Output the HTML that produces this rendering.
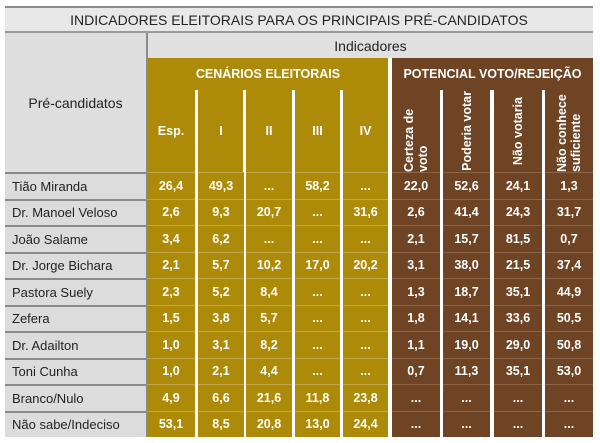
<!DOCTYPE html>
<html><head><meta charset="utf-8"><style>
body{margin:0;width:600px;height:443px;background:#fff;font-family:"Liberation Sans",Arial,sans-serif;position:relative;overflow:hidden}
div{position:absolute;box-sizing:border-box}
.c{display:flex;align-items:center;justify-content:center}
.w{color:#fff;font-weight:bold;font-size:12.5px}
.v{writing-mode:vertical-rl;transform:rotate(180deg);text-align:left;line-height:14px;font-size:12.5px;color:#fff;font-weight:bold}
</style></head><body>
<div class="c" style="left:5px;top:6px;width:588px;height:27px;background:#e8e8e8;border-top:2px solid #8c8c8c;border-bottom:2px solid #9a9a9a;font-size:14px;color:#222">INDICADORES ELEITORAIS PARA OS PRINCIPAIS PRÉ-CANDIDATOS</div>
<div class="c" style="left:5px;top:33px;width:141px;height:139px;background:#dedede;font-size:14px;color:#222">Pré-candidatos</div>
<div style="left:146px;top:33px;width:2px;height:404px;background:#8a8a8a"></div>
<div class="c" style="left:148px;top:33px;width:445px;height:25px;background:#e0e0e0;font-size:14px;color:#222">Indicadores</div>
<div class="c w" style="left:148px;top:58px;width:240px;height:32px;background:#ad8a07">CENÁRIOS ELEITORAIS</div>
<div style="left:388px;top:58px;width:4px;height:380px;background:#fff"></div>
<div class="c w" style="left:392px;top:58px;width:201px;height:32px;background:#6e4425">POTENCIAL VOTO/REJEIÇÃO</div>
<div id="grid"></div>
<script>
const candidates=["Tião Miranda","Dr. Manoel Veloso","João Salame","Dr. Jorge Bichara","Pastora Suely","Zefera","Dr. Adailton","Toni Cunha","Branco/Nulo","Não sabe/Indeciso"];
const colHeaders=["Esp.","I","II","III","IV","Certeza de voto","Poderia votar","Não votaria","Não conhece suficiente"];
const colX=[147,198,246,295,343,392,443,494,545];
const colW=[48,46,46,45,45,48,47,48,48];
const values=[
["26,4","49,3","...","58,2","...","22,0","52,6","24,1","1,3"],
["2,6","9,3","20,7","...","31,6","2,6","41,4","24,3","31,7"],
["3,4","6,2","...","...","...","2,1","15,7","81,5","0,7"],
["2,1","5,7","10,2","17,0","20,2","3,1","38,0","21,5","37,4"],
["2,3","5,2","8,4","...","...","1,3","18,7","35,1","44,9"],
["1,5","3,8","5,7","...","...","1,8","14,1","33,6","50,5"],
["1,0","3,1","8,2","...","...","1,1","19,0","29,0","50,8"],
["1,0","2,1","4,4","...","...","0,7","11,3","35,1","53,0"],
["4,9","6,6","21,6","11,8","23,8","...","...","...","..."],
["53,1","8,5","20,8","13,0","24,4","...","...","...","..."]];
const body=document.body;
const top0=172,rh=26.5;
for(let j=0;j<9;j++){
  const h=document.createElement('div');
  
  
  h.className=j<5?'c w':'c';
  h.style.cssText=`left:${colX[j]}px;top:90px;width:${colW[j]}px;height:82px;background:${j<5?'#ad8a07':'#6e4425'}`;
  if(j<5){h.textContent=colHeaders[j];}
  else{const s=document.createElement('span');s.className='v';s.textContent=colHeaders[j];h.appendChild(s);}
  body.appendChild(h);
  if(j>0&&j!==5){
    const g=document.createElement('div');
    
    
    g.style.cssText=`left:${colX[j]-3}px;top:90px;width:3px;height:348px;background:#fff`;
    body.appendChild(g);
  }
}
candidates.forEach((n,i)=>{
  const y=top0+i*rh;
  const l=document.createElement('div');
  
  
  l.style.cssText=`left:5px;top:${y}px;width:141px;height:${rh}px;background:#dcdcdc;border-top:${i==0?2:2}px solid #8a8a8a;font-size:13px;color:#222;padding-left:7px;display:flex;align-items:center`;
  l.textContent=n;
  body.appendChild(l);
  values[i].forEach((v,j)=>{
    const c=document.createElement('div');
    
    
    c.className='c w';
    c.style.cssText=`left:${colX[j]}px;top:${y}px;width:${colW[j]}px;height:${rh}px;background:${j<5?'#ad8a07':'#6e4425'};border-top:1px solid ${j<5?'#c4a64a':'#8a6549'}`;
    c.textContent=v;
    body.appendChild(c);
  });
});
</script>
</body></html>
